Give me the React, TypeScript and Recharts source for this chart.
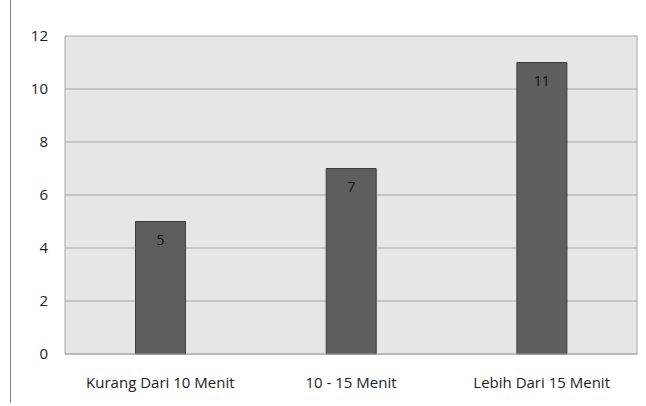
import React from "react";
import { BarChart, Bar, XAxis, YAxis, CartesianGrid, LabelList } from "recharts";

const categories = ["Kurang Dari 10 Menit", "10 - 15 Menit", "Lebih Dari 15 Menit"];
const values = [5, 7, 11];
const yTicks = [0, 2, 4, 6, 8, 10, 12];

const data = categories.map((c, i) => ({ name: c, value: values[i] }));

const FONT = "'Open Sans', sans-serif";

export default function App() {
  return (
    <div style={{ position: "absolute", left: 0, top: 0, width: 646, height: 406, background: "#fff" }}>
      <div style={{ position: "absolute", left: 10, top: 0, width: 1, height: 403, background: "#8c8c8c" }} />
      <BarChart
        width={646}
        height={406}
        data={data}
        margin={{ top: 36, right: 9, bottom: 22, left: 0 }}
        barCategoryGap="37%"
      >
        <CartesianGrid
          vertical={true}
          horizontal={true}
          verticalPoints={[65, 637]}
          stroke="#a6a6a6"
          strokeDasharray=""
          fill="#e6e6e6"
          fillOpacity={1}
        />
        <XAxis
          dataKey="name"
          axisLine={{ stroke: "#a6a6a6" }}
          tickLine={false}
          height={30}
          tickMargin={17}
          tick={{ fontFamily: FONT, fontSize: 15, fill: "#222" }}
        />
        <YAxis
          domain={[0, 12]}
          ticks={yTicks}
          width={65}
          axisLine={false}
          tickLine={false}
          tickMargin={11}
          tick={{ fontFamily: FONT, fontSize: 15, fill: "#222" }}
        />
        <Bar dataKey="value" fill="#5e5e5e" stroke="#3c3c3c" strokeWidth={1} isAnimationActive={false}>
          <LabelList
            dataKey="value"
            position="insideTop"
            offset={14}
            style={{ fontFamily: FONT, fontSize: 14, fill: "#111" }}
          />
        </Bar>
      </BarChart>
    </div>
  );
}
